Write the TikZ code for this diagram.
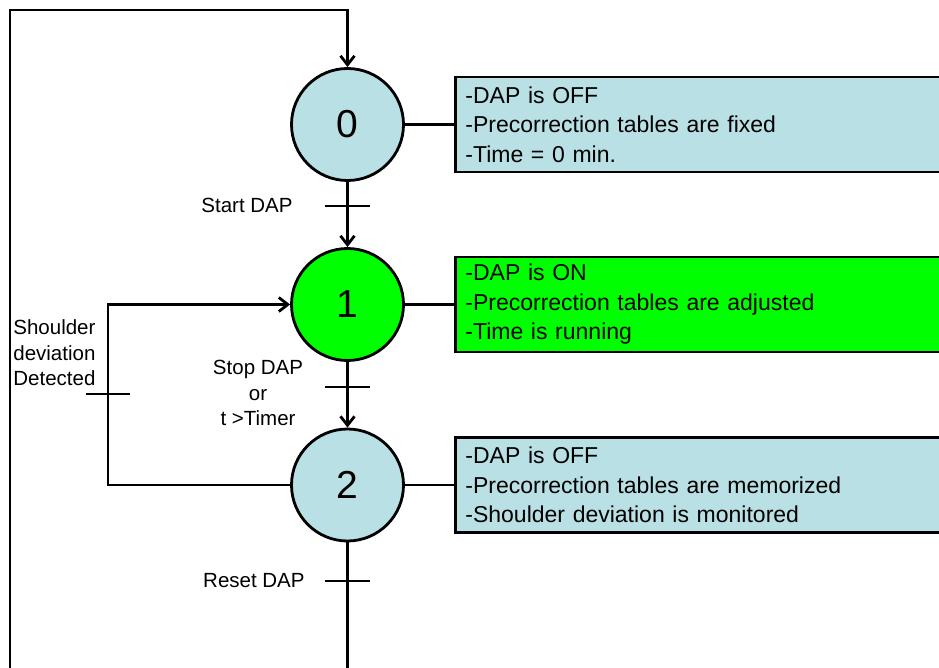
\documentclass[tikz,border=0pt]{standalone}
\usepackage{fontspec}
\setmainfont{Liberation Sans}
\usetikzlibrary{arrows.meta}
\definecolor{stateblue}{RGB}{185,224,228}
\definecolor{stategreen}{RGB}{0,255,0}
\begin{document}
\begin{tikzpicture}[x=1pt,y=-1pt,line width=2.8pt,
  state/.style={circle,draw,minimum size=112pt,inner sep=0pt,font=\fontsize{39}{40}\selectfont},
  info/.style={draw,anchor=west,text width=482pt,inner xsep=10pt,minimum height=95pt,align=left,
               font=\fontsize{23}{29.5}\selectfont},
  lbl/.style={inner sep=0pt,font=\fontsize{20.5}{25.5}\selectfont},
  tbar/.style={minimum width=42pt,minimum height=0pt,inner sep=0pt,draw=none},
  arr/.style={-{Straight Barb[length=9pt,width=14pt]}}
]
\useasboundingbox (0,0) rectangle (939,668);
\clip (0,0) rectangle (939,668);
\fill[white] (0,0) rectangle (939,668);

% states
\node[state,fill=stateblue] (s0) at (347.5,124.5) {0};
\node[state,fill=stategreen] (s1) at (347.5,304.5) {1};
\node[state,fill=stateblue] (s2) at (347.5,485) {2};

% info boxes
\node[info,fill=stateblue] (b0) at (454,124.5) {-DAP is OFF\\-Precorrection tables are fixed\\-Time = 0 min.};
\node[info,fill=stategreen] (b1) at (454,304.5) {-DAP is ON\\-Precorrection tables are adjusted\\-Time is running};
\node[info,fill=stateblue] (b2) at (454,485) {-DAP is OFF\\-Precorrection tables are memorized\\-Shoulder deviation is monitored};

\draw (s0.east) -- (b0.west);
\draw (s1.east) -- (b1.west);
\draw (s2.east) -- (b2.west);

% transitions
\node[tbar] (t01) at (347.5,206) {};
\node[tbar] (t12) at (347.5,387) {};
\node[tbar] (t20) at (347.5,581) {};
\node[tbar] (t21) at (108,394) {};
\draw (t01.west) -- (t01.east);
\draw (t12.west) -- (t12.east);
\draw (t20.west) -- (t20.east);
\draw (t21.west) -- (t21.east);

% loop corners
\coordinate (cb) at (347.5,690);
\coordinate (lb) at (10,690);
\coordinate (lt) at (10,10);
\coordinate (ct) at (347.5,10);

\draw[arr] (s0.south) -- (s1.north);
\draw[arr] (s1.south) -- (s2.north);
\draw[arr] (s2.south) -- (cb) -- (lb) -- (lt) -- (ct) -- (s0.north);
\draw[arr] (s2.west) -| (t21.center) |- (s1.west);

% labels
\node[lbl,anchor=east] (l01) at (294,205) {Start DAP};
\node[lbl,align=center] (l12) at (258,393) {Stop DAP\\or\\t >Timer};
\node[lbl,anchor=east] (l20) at (306,581) {Reset DAP};
\node[lbl,anchor=west,align=left] (l21) at (12,353) {Shoulder\\deviation\\Detected};
\end{tikzpicture}
\end{document}
